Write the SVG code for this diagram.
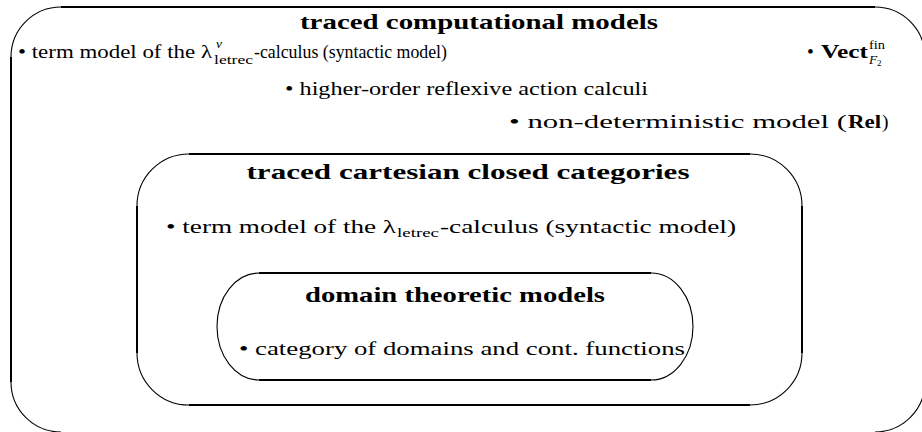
<svg xmlns="http://www.w3.org/2000/svg" width="922" height="432" viewBox="0 0 922 432" font-family="'Liberation Serif', 'DejaVu Serif', serif">
<style>
.ln{fill:none;stroke:#000;stroke-width:2}
.arc{fill:none;stroke:#000;stroke-width:1.1}
.t{font-size:19.5px}
.t2{font-size:18.5px}
.b{font-size:21px;font-weight:bold}
.s{font-size:13.5px}
</style>
<rect width="922" height="432" fill="#fff"/>
<g id="outer">
<path class="ln" d="M61 7H875M11 57V382"/>
<path class="arc" d="M11 57A50 50 0 0 1 61 7M875 7A50 50 0 0 1 925 57M925 382A50 50 0 0 1 875 432M61 432A50 50 0 0 1 11 382"/>
<text class="b" x="479" y="29" text-anchor="middle" textLength="358" lengthAdjust="spacingAndGlyphs">traced computational models</text>
<text class="t2" x="18" y="58" textLength="194" lengthAdjust="spacingAndGlyphs">• term model of the λ</text>
<text class="s" x="216" y="48" font-style="italic">v</text>
<text class="s" x="214" y="64" textLength="39" lengthAdjust="spacingAndGlyphs">letrec</text>
<text class="t2" x="254" y="58" textLength="193" lengthAdjust="spacingAndGlyphs">-calculus (syntactic model)</text>
<text class="t" x="807" y="58">•</text>
<text class="t" x="821" y="58" font-weight="bold" textLength="47" lengthAdjust="spacingAndGlyphs">Vect</text>
<text class="s" x="869" y="49" textLength="16" lengthAdjust="spacingAndGlyphs">fin</text>
<text class="s" x="869" y="64" font-style="italic">F</text>
<text x="877" y="66" font-size="9">2</text>
<text class="t" x="285" y="95" textLength="363" lengthAdjust="spacingAndGlyphs">• higher-order reflexive action calculi</text>
<text class="t" x="509" y="128" textLength="338" lengthAdjust="spacingAndGlyphs">• non-deterministic model (</text>
<text class="t" x="848" y="128" font-weight="bold" textLength="33" lengthAdjust="spacingAndGlyphs">Rel</text>
<text class="t" x="882" y="128">)</text>
</g>
<g id="tccc">
<path class="ln" d="M189 154H750M137 206V353M802 206V353M189 405H750"/>
<path class="arc" d="M137 206A52 52 0 0 1 189 154M750 154A52 52 0 0 1 802 206M802 353A52 52 0 0 1 750 405M189 405A52 52 0 0 1 137 353"/>
<text class="b" x="468" y="179" text-anchor="middle" textLength="443" lengthAdjust="spacingAndGlyphs">traced cartesian closed categories</text>
<text class="t" x="166" y="233" textLength="230" lengthAdjust="spacingAndGlyphs">• term model of the λ</text>
<text class="s" x="397" y="237" textLength="42" lengthAdjust="spacingAndGlyphs">letrec</text>
<text class="t" x="440" y="233" textLength="296" lengthAdjust="spacingAndGlyphs">-calculus (syntactic model)</text>
</g>
<g id="domain">
<path class="ln" d="M259 273H651M259 380H651"/>
<path class="arc" d="M259 273A42 53.5 0 0 0 259 380M651 273A42 53.5 0 0 1 651 380"/>
<text class="b" x="455" y="302" text-anchor="middle" textLength="300" lengthAdjust="spacingAndGlyphs">domain theoretic models</text>
<text class="t" x="239" y="355" textLength="446" lengthAdjust="spacingAndGlyphs">• category of domains and cont. functions</text>
</g>
<g id="connectors"/>
</svg>
